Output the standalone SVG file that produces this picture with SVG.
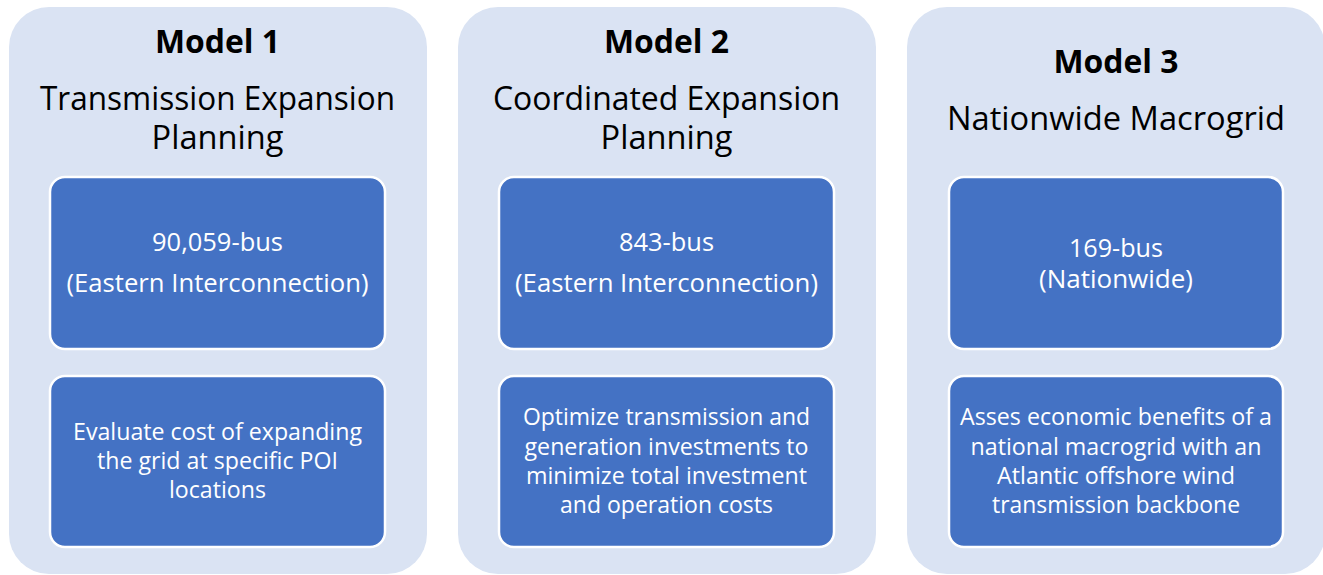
<svg xmlns="http://www.w3.org/2000/svg" width="1323" height="575" viewBox="0 0 1323 575">
<style>
.outer{fill:#DAE3F3;stroke:none}
.inner{fill:#4472C4;stroke:#FFFFFF;stroke-width:2.5}
text{font-family:"Open Sans","Noto Sans","Liberation Sans",sans-serif;text-anchor:middle}
.title{font-size:32.6px;font-weight:bold;fill:#000000}
.sub{font-size:32.6px;fill:#000000}
.bus{font-size:26px;fill:#FFFFFF}
.desc{font-size:23.7px;fill:#FFFFFF}
</style>
<rect width="1323" height="575" fill="#FFFFFF"/>
<g id="model1">
<rect class="outer" x="9" y="7" width="418" height="567" rx="40"/>
<text class="title" x="217.5" y="53" textLength="125" lengthAdjust="spacingAndGlyphs">Model 1</text>
<text class="sub" x="217.5" y="110" textLength="355" lengthAdjust="spacingAndGlyphs">Transmission Expansion</text>
<text class="sub" x="217.5" y="149">Planning</text>
<g id="model1-size">
<rect class="inner" x="50" y="177" width="335" height="172" rx="15"/>
<text class="bus" x="217.5" y="251" textLength="131" lengthAdjust="spacingAndGlyphs">90,059-bus</text>
<text class="bus" x="217.5" y="292" textLength="302" lengthAdjust="spacingAndGlyphs">(Eastern Interconnection)</text>
</g>
<g id="model1-goal">
<rect class="inner" x="50" y="376" width="335" height="171" rx="15"/>
<text class="desc" x="217.5" y="440" textLength="289" lengthAdjust="spacingAndGlyphs">Evaluate cost of expanding</text>
<text class="desc" x="217.5" y="469" textLength="241" lengthAdjust="spacingAndGlyphs">the grid at specific POI</text>
<text class="desc" x="217.5" y="498" textLength="97" lengthAdjust="spacingAndGlyphs">locations</text>
</g>
</g>
<g id="model2">
<rect class="outer" x="458" y="7" width="418" height="567" rx="40"/>
<text class="title" x="666.5" y="53" textLength="125" lengthAdjust="spacingAndGlyphs">Model 2</text>
<text class="sub" x="666.5" y="110" textLength="347" lengthAdjust="spacingAndGlyphs">Coordinated Expansion</text>
<text class="sub" x="666.5" y="149">Planning</text>
<g id="model2-size">
<rect class="inner" x="499" y="177" width="335" height="172" rx="15"/>
<text class="bus" x="666.5" y="251" textLength="95" lengthAdjust="spacingAndGlyphs">843-bus</text>
<text class="bus" x="666.5" y="292" textLength="303" lengthAdjust="spacingAndGlyphs">(Eastern Interconnection)</text>
</g>
<g id="model2-goal">
<rect class="inner" x="499" y="376" width="335" height="171" rx="15"/>
<text class="desc" x="666.5" y="425" textLength="287" lengthAdjust="spacingAndGlyphs">Optimize transmission and</text>
<text class="desc" x="666.5" y="454.5" textLength="284" lengthAdjust="spacingAndGlyphs">generation investments to</text>
<text class="desc" x="666.5" y="484" textLength="281" lengthAdjust="spacingAndGlyphs">minimize total investment</text>
<text class="desc" x="666.5" y="513" textLength="213" lengthAdjust="spacingAndGlyphs">and operation costs</text>
</g>
</g>
<g id="model3">
<rect class="outer" x="907" y="7" width="418" height="567" rx="40"/>
<text class="title" x="1116" y="73" textLength="125" lengthAdjust="spacingAndGlyphs">Model 3</text>
<text class="sub" x="1116" y="130" textLength="338" lengthAdjust="spacingAndGlyphs">Nationwide Macrogrid</text>
<g id="model3-size">
<rect class="inner" x="949" y="177" width="334" height="172" rx="15"/>
<text class="bus" x="1116" y="257" textLength="94" lengthAdjust="spacingAndGlyphs">169-bus</text>
<text class="bus" x="1116" y="288" textLength="154" lengthAdjust="spacingAndGlyphs">(Nationwide)</text>
</g>
<g id="model3-goal">
<rect class="inner" x="949" y="376" width="334" height="171" rx="15"/>
<text class="desc" x="1116" y="425" textLength="312" lengthAdjust="spacingAndGlyphs">Asses economic benefits of a</text>
<text class="desc" x="1116" y="454.5" textLength="291" lengthAdjust="spacingAndGlyphs">national macrogrid with an</text>
<text class="desc" x="1116" y="484" textLength="238" lengthAdjust="spacingAndGlyphs">Atlantic offshore wind</text>
<text class="desc" x="1116" y="513" textLength="248" lengthAdjust="spacingAndGlyphs">transmission backbone</text>
</g>
</g>
<g id="connectors"></g>
</svg>
